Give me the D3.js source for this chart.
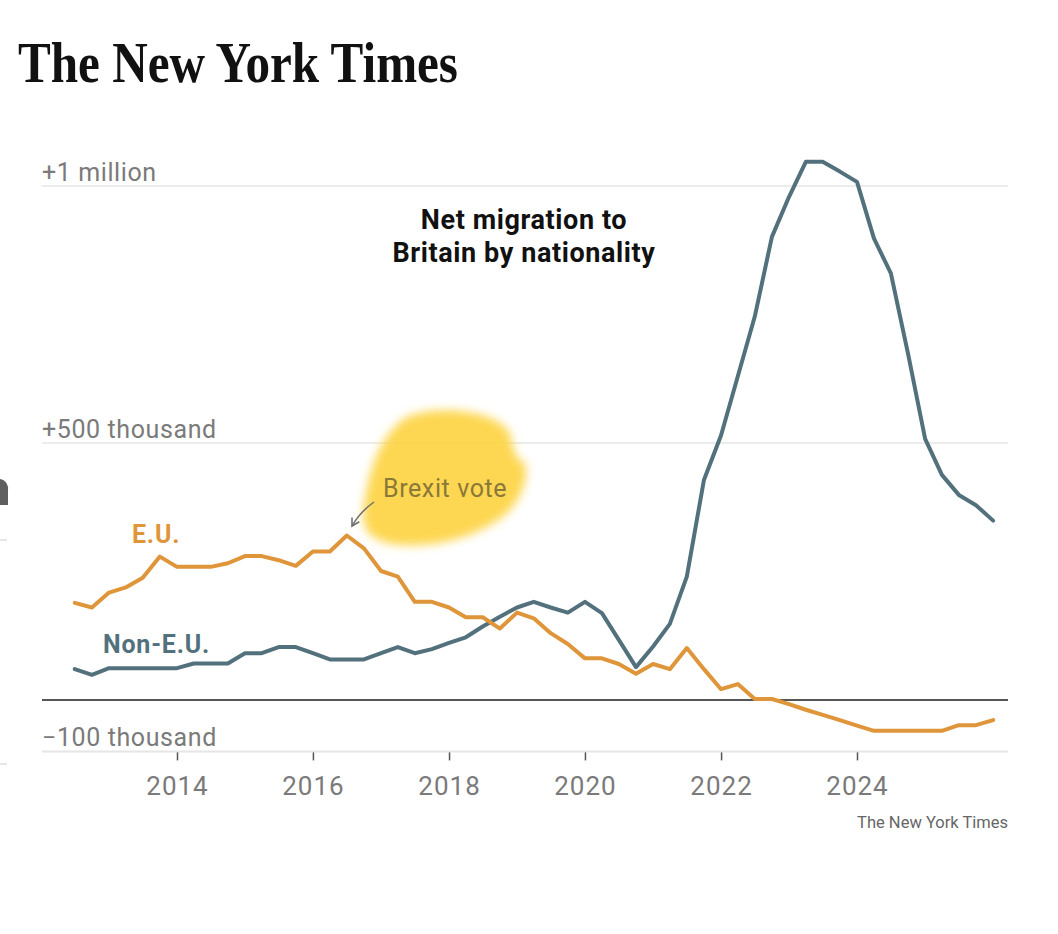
<!DOCTYPE html>
<html>
<head>
<meta charset="utf-8">
<script src="https://cdn.jsdelivr.net/npm/d3@7"></script>
<style>
  body { margin: 0; background: #fff; }
  svg { display: block; }
  text { font-family: Roboto, "Noto Sans", sans-serif; }
</style>
</head>
<body>
<div id="wrapper"></div>
<script>
// Data: quarterly net migration, thousands
const quarters = [
  "2012-07","2012-10","2013-01","2013-04","2013-07","2013-10","2014-01","2014-04","2014-07","2014-10",
  "2015-01","2015-04","2015-07","2015-10","2016-01","2016-04","2016-07","2016-10","2017-01","2017-04",
  "2017-07","2017-10","2018-01","2018-04","2018-07","2018-10","2019-01","2019-04","2019-07","2019-10",
  "2020-01","2020-04","2020-07","2020-10","2021-01","2021-04","2021-07","2021-10","2022-01","2022-04",
  "2022-07","2022-10","2023-01","2023-04","2023-07","2023-10","2024-01","2024-04","2024-07","2024-10",
  "2025-01","2025-04","2025-07","2025-10","2026-01"
];
const euValues = [
  189,180,209,219,238,279,259,259,259,266,
  280,280,272,261,289,289,320,295,251,240,
  191,191,180,161,161,139,170,159,130,109,
  81,81,70,51,70,60,101,60,21,31,
  2,2,-8,-19,-29,-39,-50,-60,-60,-60,
  -60,-60,-49,-49,-39
];
const nonEuValues = [
  60,49,62,62,62,62,62,71,71,71,
  91,91,103,103,91,79,79,79,91,103,
  91,99,111,122,143,162,180,191,180,170,
  191,169,117,64,104,148,240,428,515,630,
  746,901,979,1047,1047,1028,1008,898,830,674,
  508,438,399,379,349
];
const yTicks = [1000, 500, -100];
const yTickLabels = ["+1 million", "+500 thousand", "\u2212100 thousand"];
const xTickYears = [2014, 2016, 2018, 2020, 2022, 2024];

// Dimension
const dimension = {width: 1058, height: 934};
const parseDate = d3.timeParse("%Y-%m");
const dates = quarters.map(parseDate);

const xScale = d3.scaleTime()
  .domain([new Date(2014, 0, 1), new Date(2024, 0, 1)])
  .range([177, 857]);
const yScale = d3.scaleLinear().domain([-100, 1000]).range([751.4, 186]);

const colors = {eu: "#df953a", nonEu: "#52717d"};

// Canvas
const wrapper = d3.select("#wrapper").append("svg")
  .attr("width", dimension.width).attr("height", dimension.height);

const defs = wrapper.append("defs");
defs.append("filter").attr("id", "blur")
  .attr("x", "-30%").attr("y", "-30%").attr("width", "160%").attr("height", "160%")
  .append("feGaussianBlur").attr("stdDeviation", 5);
defs.append("marker").attr("id", "arrow")
  .attr("viewBox", "0 0 10 10").attr("refX", 8).attr("refY", 5)
  .attr("markerWidth", 7).attr("markerHeight", 7).attr("orient", "auto-start-reverse")
  .append("path").attr("d", "M1,1 L8,5 L1,9")
  .attr("fill", "none").attr("stroke", "#6f6f6f").attr("stroke-width", 1.5);

// Masthead
wrapper.append("text")
  .attr("x", 18).attr("y", 82)
  .attr("textLength", 440).attr("lengthAdjust", "spacingAndGlyphs")
  .style("font-family", "'Liberation Serif', 'DejaVu Serif', serif")
  .style("font-weight", "bold").style("font-size", "56px").attr("fill", "#111")
  .text("The New York Times");

// left-edge screenshot bits
wrapper.append("path").attr("d", "M0,479 A9,10 0 0 1 8,491 L8,505 L0,505 Z").attr("fill", "#5f5f5f");
wrapper.append("line").attr("x1", 0).attr("x2", 7).attr("y1", 540).attr("y2", 540).attr("stroke", "#ccc");
wrapper.append("line").attr("x1", 0).attr("x2", 7).attr("y1", 764).attr("y2", 764).attr("stroke", "#ccc");

// Gridlines and y labels
const grid = wrapper.append("g");
grid.selectAll("line").data(yTicks).join("line")
  .attr("x1", 42).attr("x2", 1008)
  .attr("y1", d => yScale(d)).attr("y2", d => yScale(d))
  .attr("stroke", "#e6e6e6").attr("stroke-width", (d, i) => i === 2 ? 2 : 1.5);
grid.selectAll("text").data(yTicks).join("text")
  .attr("x", 42).attr("y", d => yScale(d) - 5)
  .attr("fill", "#7a7a7a").style("font-size", "25px").style("letter-spacing", "0.6px")
  .text((d, i) => yTickLabels[i]);

// zero line
wrapper.append("line")
  .attr("x1", 42).attr("x2", 1008).attr("y1", yScale(0)).attr("y2", yScale(0))
  .attr("stroke", "#555").attr("stroke-width", 1.8);

// x axis
const xAxisGenerator = d3.axisBottom(xScale)
  .tickValues(xTickYears.map(y => new Date(y, 0, 1)))
  .tickFormat(d3.timeFormat("%Y"))
  .tickSize(8).tickPadding(16);
const xAxis = wrapper.append("g")
  .attr("transform", `translate(0,${yScale(-100) + 1})`)
  .call(xAxisGenerator);
xAxis.select(".domain").remove();
xAxis.selectAll(".tick line").attr("stroke", "#555").attr("stroke-width", 1.5);
xAxis.selectAll(".tick text")
  .attr("fill", "#7a7a7a").style("font-size", "26px").style("letter-spacing", "1px")
  .style("font-family", "Roboto, sans-serif");

// Brexit highlight blob
wrapper.append("path")
  .attr("d", "M405,418 C430,405 490,408 508,430 C515,445 512,458 524,462 C530,475 522,500 505,515 C480,535 440,548 400,545 C368,542 360,528 364,505 C368,480 375,440 405,418 Z")
  .attr("fill", "#fdd23a").attr("opacity", 0.88)
  .attr("filter", "url(#blur)");

// Lines
const lineGenerator = d3.line()
  .x((d, i) => xScale(dates[i]))
  .y(d => yScale(d));

const series = [
  {name: "nonEu", values: nonEuValues},
  {name: "eu", values: euValues}
];
wrapper.append("g").selectAll("path").data(series).join("path")
  .attr("d", d => lineGenerator(d.values))
  .attr("fill", "none")
  .attr("stroke", d => colors[d.name])
  .attr("stroke-width", 4)
  .attr("stroke-linejoin", "round")
  .attr("stroke-linecap", "round");

// Series labels
wrapper.append("text").attr("x", 132).attr("y", 543)
  .attr("fill", colors.eu).style("font-size", "25px").style("font-weight", "bold")
  .style("letter-spacing", "0.8px")
  .text("E.U.");
wrapper.append("text").attr("x", 103).attr("y", 653)
  .attr("fill", colors.nonEu).style("font-size", "25px").style("font-weight", "bold")
  .style("letter-spacing", "0.8px")
  .text("Non-E.U.");

// Title
const title = wrapper.append("text")
  .attr("x", 524).attr("text-anchor", "middle")
  .attr("fill", "#111").style("font-size", "27px").style("font-weight", "bold")
  .style("letter-spacing", "0.6px");
title.append("tspan").attr("x", 524).attr("y", 229).text("Net migration to");
title.append("tspan").attr("x", 524).attr("y", 262).text("Britain by nationality");

// Brexit annotation
wrapper.append("text").attr("x", 383).attr("y", 497)
  .attr("fill", "#8a7838").style("font-size", "25px").style("letter-spacing", "0.6px")
  .text("Brexit vote");
wrapper.append("path")
  .attr("d", "M374,502 Q360,512 352,526")
  .attr("fill", "none").attr("stroke", "#6f6f6f").attr("stroke-width", 1.5)
  .attr("marker-end", "url(#arrow)");

// credit
wrapper.append("text").attr("x", 1008).attr("y", 828).attr("text-anchor", "end")
  .attr("fill", "#666").style("font-size", "16.5px")
  .text("The New York Times");
</script>
</body>
</html>
